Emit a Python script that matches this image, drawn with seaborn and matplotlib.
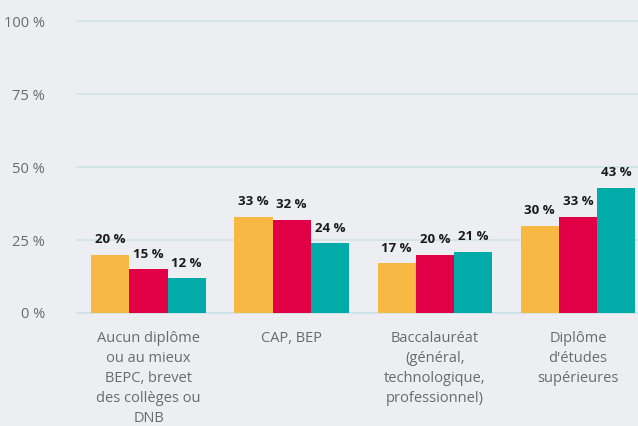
import matplotlib
matplotlib.use("Agg")
import matplotlib.pyplot as plt
import seaborn as sns
import pandas as pd

# data
categories = [
    "Aucun diplôme\nou au mieux\nBEPC, brevet\ndes collèges ou\nDNB",
    "CAP, BEP",
    "Baccalauréat\n(général,\ntechnologique,\nprofessionnel)",
    "Diplôme\nd'études\nsupérieures",
]
series_names = ["Série 1", "Série 2", "Série 3"]
serie_1 = [20, 33, 17, 30]
serie_2 = [15, 32, 20, 33]
serie_3 = [12, 24, 21, 43]
colors = ["#F8B944", "#E10045", "#00ABA8"]
y_ticks = [0, 25, 50, 75, 100]

bg = "#ECEEF1"

sns.set_theme(style="white")
plt.rcParams["font.family"] = ["Open Sans", "DejaVu Sans"]

df = pd.DataFrame({
    "cat": categories * 3,
    "serie": [s for s in series_names for _ in categories],
    "val": serie_1 + serie_2 + serie_3,
})

fig = plt.figure(figsize=(6.38, 4.26), dpi=100, facecolor=bg)
ax = fig.add_axes([77 / 638, 113 / 426, 1 - 77 / 638, 291.5 / 426])
ax.set_facecolor(bg)

sns.barplot(data=df, x="cat", y="val", hue="serie", palette=colors,
            order=categories, hue_order=series_names, width=0.8,
            saturation=1, legend=False, linewidth=0, ax=ax)

for cont in ax.containers:
    ax.bar_label(cont, labels=[f"{v:.0f} %" for v in cont.datavalues],
                 padding=6, fontsize=9.5, fontweight="bold", color="#1a1a1a")

ax.set_ylim(0, 100)
ax.set_xlim(-0.5, 3.42)
ax.set_yticks(y_ticks)
ax.set_yticklabels([f"{t} %" for t in y_ticks])
ax.grid(axis="y", color="#CFE3E7", linewidth=1.3)
for gl in ax.get_ygridlines():
    gl.set_clip_on(False)
ax.set_axisbelow(True)
for s in ["top", "right", "left", "bottom"]:
    ax.spines[s].set_visible(False)
ax.axhline(0, color="#C6D6E6", linewidth=1.5, zorder=0.5)

ax.tick_params(axis="y", length=0, pad=23, labelsize=10.5, labelcolor="#6a6a6a")
ax.tick_params(axis="x", length=0, pad=13, labelsize=10.5, labelcolor="#6a6a6a")
for lbl in ax.get_xticklabels():
    lbl.set_linespacing(1.45)
    lbl.set_horizontalalignment("center")
ax.set_xlabel("")
ax.set_ylabel("")

fig.savefig("out.png", dpi=100, facecolor=bg)
